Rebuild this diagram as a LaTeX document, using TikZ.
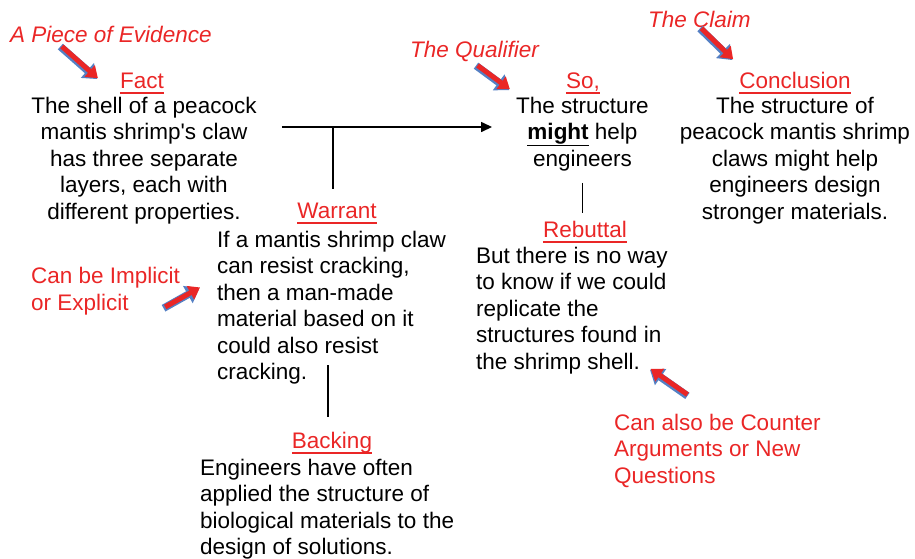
\documentclass[tikz,border=0pt]{standalone}
\usepackage{fontspec}
\setmainfont{Liberation Sans}
\usetikzlibrary{arrows.meta}
\definecolor{notered}{RGB}{234,38,38}
\definecolor{pointerblue}{RGB}{84,128,196}

\begin{document}
\begin{tikzpicture}[x=1pt,y=-1pt,
		body/.style={align=center,inner sep=0pt,anchor=base,font=\fontsize{22.5}{26.5}\selectfont},
		bodyleft/.style={body,align=left,anchor=base west},
		head/.style={inner sep=0pt,text height=16.5pt,text depth=5pt,text=notered,anchor=base,font=\fontsize{22.5}{26.5}\selectfont},
		note/.style={body,align=left,anchor=base west,text=notered},
		link/.style={line width=1.5pt},
		pointer/.style={line width=5pt,notered,-{Triangle[length=11pt,width=15pt]},
			preaction={draw=pointerblue,line width=7.5pt,shorten <=-1pt,-{Triangle[length=13pt,width=19pt]},transform canvas={shift={(-0.8pt,-0.8pt)}}}}]
		\useasboundingbox (0,0) rectangle (915,558);
		\node[head] (fact) at (142,88) {Fact};
		\node[body] (facttext) at (144,219) {The shell of a peacock\\mantis shrimp\textquotesingle s claw\\has three separate\\layers, each with\\different properties.};
		\node[head] (so) at (583,88) {So,};
		\node[body] (sotext) at (582.5,166) {The structure\\\underline{\textbf{might}} help\\engineers};
		\node[head] (conclusion) at (795,88) {Conclusion};
		\node[body] (conclusiontext) at (795,219) {The structure of\\peacock mantis shrimp\\claws might help\\engineers design\\stronger materials.};
		\node[head] (warrant) at (337,218) {Warrant};
		\node[bodyleft] (warranttext) at (217,379.5) {If a mantis shrimp claw\\can resist cracking,\\then a man-made\\material based on it\\could also resist\\cracking.};
		\node[head] (backing) at (332,448) {Backing};
		\node[bodyleft] (backingtext) at (200,554.5) {Engineers have often\\applied the structure of\\biological materials to the\\design of solutions.};
		\node[head] (rebuttal) at (585,237) {Rebuttal};
		\node[bodyleft] (rebuttaltext) at (476,369) {But there is no way\\to know if we could\\replicate the\\structures found in\\the shrimp shell.};
		\node[note] (evidence) at (10,42) {\itshape A Piece of Evidence};
		\node[note] (qualifier) at (410,57) {\itshape The Qualifier};
		\node[note] (claim) at (648,27) {\itshape The Claim};
		\node[note] (implicit) at (31,310) {Can be Implicit\\or Explicit};
		\node[note] (counter) at (614,483) {Can also be Counter\\Arguments or New\\Questions};
		\foreach \h in {fact,so,conclusion,warrant,backing,rebuttal}
			\draw[notered,line width=1.5pt] (\h.south west) -- (\h.south east);
		\coordinate (fork) at (333,127);
		\coordinate (warrantfoot) at (328,365);
		\draw[link,-{Triangle[length=11pt,width=10pt]},shorten <=25pt,shorten >=24pt] (facttext.east |- fork) -- (sotext.west |- fork);
		\draw[link,shorten >=12pt] (fork) -- (fork |- warrant.north);
		\draw[link,shorten >=14pt] (warrantfoot) -- (warrantfoot |- backing.north);
		\draw[link,shorten <=12pt,shorten >=7pt] (sotext.south) -- (sotext.south |- rebuttal.north);
		\draw[pointer] ([shift={(-49,4)}]evidence.south) -- ([shift={(-22,-4)}]fact.west);
		\draw[pointer] ([shift={(3,4)}]qualifier.south) -- ([shift={(-56,7)}]so.west);
		\draw[pointer] ([shift={(2,1)}]claim.south) -- ([shift={(-6,-23)}]conclusion.west);
		\draw[pointer] ([shift={(-15,16)}]implicit.east) -- ([shift={(-17,-20)}]warranttext.west);
		\draw[pointer] ([shift={(-30,-19)}]counter.north) -- ([shift={(-17,-5)}]rebuttaltext.south east);
\end{tikzpicture}
\end{document}
